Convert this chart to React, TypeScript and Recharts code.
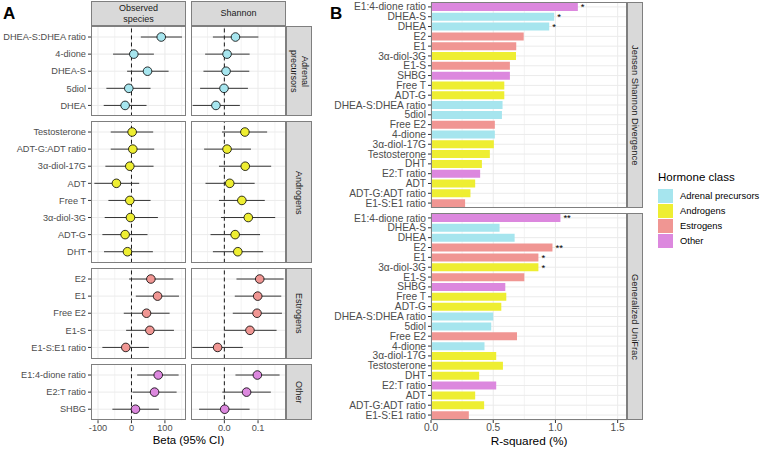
import React from "react";
import {
  Bar,
  BarChart,
  CartesianGrid,
  Cell,
  ErrorBar,
  LabelList,
  ReferenceLine,
  Scatter,
  ScatterChart,
  XAxis,
  YAxis,
} from "recharts";

// ---- data (panel A: estimate, lower CI, upper CI) ----
const adrenalNames = ["DHEA-S:DHEA ratio", "4-dione", "DHEA-S", "5diol", "DHEA"];
const adrenalObs = [[89, 28, 151], [7, -55, 67], [48, -13, 111], [-8, -75, 57], [-19, -83, 45]];
const adrenalSha = [[0.033, -0.034, 0.101], [0.008, -0.057, 0.075], [0.005, -0.062, 0.074], [-0.001, -0.072, 0.07], [-0.025, -0.094, 0.046]];

const androgenNames = ["Testosterone", "ADT-G:ADT ratio", "3α-diol-17G", "ADT", "Free T", "3α-diol-3G", "ADT-G", "DHT"];
const androgenObs = [[2, -62, 65], [4, -62, 68], [-5, -78, 66], [-45, -111, 23], [-5, -69, 57], [-3, -80, 79], [-19, -87, 48], [-12, -82, 64]];
const androgenSha = [[0.061, -0.007, 0.127], [0.008, -0.06, 0.079], [0.062, -0.016, 0.139], [0.016, -0.056, 0.09], [0.052, -0.016, 0.12], [0.071, -0.01, 0.151], [0.032, -0.041, 0.106], [0.04, -0.034, 0.115]];

const estrogenNames = ["E2", "E1", "Free E2", "E1-S", "E1-S:E1 ratio"];
const estrogenObs = [[58, -7, 125], [78, 13, 142], [45, -23, 114], [55, -16, 127], [-17, -87, 52]];
const estrogenSha = [[0.105, 0.036, 0.176], [0.099, 0.031, 0.169], [0.097, 0.025, 0.171], [0.076, 0.0, 0.155], [-0.02, -0.095, 0.055]];

const otherNames = ["E1:4-dione ratio", "E2:T ratio", "SHBG"];
const otherObs = [[80, 17, 141], [69, 3, 135], [12, -57, 82]];
const otherSha = [[0.098, 0.033, 0.164], [0.066, -0.006, 0.138], [0.001, -0.075, 0.075]];

// ---- data (panel B) ----
const bNames = ["E1:4-dione ratio", "DHEA-S", "DHEA", "E2", "E1", "3α-diol-3G", "E1-S", "SHBG", "Free T", "ADT-G", "DHEA-S:DHEA ratio", "5diol", "Free E2", "4-dione", "3α-diol-17G", "Testosterone", "DHT", "E2:T ratio", "ADT", "ADT-G:ADT ratio", "E1-S:E1 ratio"];
const bClass = ["Other", "Adrenal precursors", "Adrenal precursors", "Estrogens", "Estrogens", "Androgens", "Estrogens", "Other", "Androgens", "Androgens", "Adrenal precursors", "Adrenal precursors", "Estrogens", "Adrenal precursors", "Androgens", "Androgens", "Androgens", "Other", "Androgens", "Androgens", "Estrogens"];
const jsdValues = [1.18, 0.99, 0.95, 0.745, 0.685, 0.683, 0.634, 0.634, 0.589, 0.589, 0.575, 0.57, 0.513, 0.513, 0.505, 0.473, 0.409, 0.395, 0.355, 0.317, 0.274];
const jsdStars = ["*", "*", "*", "", "", "", "", "", "", "", "", "", "", "", "", "", "", "", "", "", ""];
const guniValues = [1.04, 0.551, 0.672, 0.976, 0.863, 0.863, 0.75, 0.597, 0.605, 0.565, 0.5, 0.484, 0.691, 0.43, 0.524, 0.578, 0.387, 0.524, 0.355, 0.427, 0.304];
const guniStars = ["**", "", "", "**", "*", "*", "", "", "", "", "", "", "", "", "", "", "", "", "", "", ""];

const classNames = ["Adrenal precursors", "Androgens", "Estrogens", "Other"];
const classColors: Record<string, string> = {
  "Adrenal precursors": "#a6e5ee",
  Androgens: "#eeee32",
  Estrogens: "#f09693",
  Other: "#dc88de",
};

const FONT = '"Liberation Sans", Arial, sans-serif';
const TICK_A = { fontSize: 9.2, fill: "#4d4d4d" };
const TICK_B = { fontSize: 10.2, fill: "#4d4d4d" };
const BORDER = "#7f7f7f";
const STRIP_BG = "#d9d9d9";

const groups = [
  { names: adrenalNames, obs: adrenalObs, sha: adrenalSha, cls: "Adrenal precursors", strip: "Adrenal\nprecursors" },
  { names: androgenNames, obs: androgenObs, sha: androgenSha, cls: "Androgens", strip: "Androgens" },
  { names: estrogenNames, obs: estrogenObs, sha: estrogenSha, cls: "Estrogens", strip: "Estrogens" },
  { names: otherNames, obs: otherObs, sha: otherSha, cls: "Other", strip: "Other" },
];

// row layout for panel A
const STEP = 17.1;
const PAD = 0.645;
const rowsA = (() => {
  let top = 26;
  return groups.map((g) => {
    const h = (g.names.length - 1 + 2 * PAD) * STEP;
    const r = { top, h };
    top += h + 5;
    return r;
  });
})();

const axisCfg = {
  obs: { domain: [-121, 163], major: [-100, 0, 100], minor: [-50, 50, 150], fmt: (v: number) => String(v) },
  sha: { domain: [-0.099, 0.183], major: [0, 0.1], minor: [-0.05, 0.05, 0.15], fmt: (v: number) => v.toFixed(1) },
};

// y tick label without word wrapping
const yTick = (label: (v: any) => string, style: { fontSize: number; fill: string }) => (p: any) => (
  <text x={p.x} y={p.y} dy="0.35em" textAnchor="end" fontSize={style.fontSize} fill={style.fill}>
    {label(p.payload.value)}
  </text>
);

function ForestFacet({ names, rows, color, kind, left, top, height, showY, showX }: any) {
  const cfg = axisCfg[kind as "obs" | "sha"];
  const data = rows.map((r: number[], i: number) => ({ y: i, x: r[0], err: [r[0] - r[1], r[2] - r[0]] }));
  const idx = names.map((_: string, i: number) => i);
  const yw = showY ? 91 : 0;
  const axisH = showX ? 22 : 0;
  return (
    <div style={{ position: "absolute", left, top }}>
      <ScatterChart width={yw + 95} height={height + axisH} margin={{ top: 0, right: 0, bottom: 0, left: 0 }}>
        <CartesianGrid horizontal={false} verticalValues={cfg.minor} stroke="#f3f3f3" />
        <CartesianGrid horizontalValues={idx} verticalValues={cfg.major} stroke="#ebebeb" />
        <XAxis
          type="number"
          dataKey="x"
          domain={cfg.domain}
          ticks={cfg.major}
          allowDataOverflow
          hide={!showX}
          height={axisH}
          tick={TICK_A}
          tickSize={3}
          tickMargin={1}
          axisLine={false}
          tickLine={{ stroke: "#333" }}
          tickFormatter={cfg.fmt}
          interval={0}
        />
        <YAxis
          type="number"
          dataKey="y"
          domain={[-PAD, names.length - 1 + PAD]}
          reversed
          ticks={idx}
          allowDataOverflow
          hide={!showY}
          width={yw}
          tick={yTick((v) => names[Math.round(v)], TICK_A)}
          tickSize={3}
          tickMargin={2}
          axisLine={false}
          tickLine={{ stroke: "#333" }}
          interval={0}
        />
        <ReferenceLine x={0} stroke="#000" strokeDasharray="4 3" strokeWidth={0.9} />
        <Scatter
          data={data}
          isAnimationActive={false}
          shape={(p: any) => <circle cx={p.cx} cy={p.cy} r={4.3} fill={color} stroke="#000" strokeWidth={0.8} />}
        >
          <ErrorBar dataKey="err" direction="x" width={0} stroke="#333" strokeWidth={1} />
        </Scatter>
      </ScatterChart>
      <div
        style={{
          position: "absolute",
          left: yw,
          top: 0,
          width: 95,
          height,
          border: `1px solid ${BORDER}`,
          boxSizing: "border-box",
        }}
      />
    </div>
  );
}

function BarFacet({ values, stars, top, height, showX }: any) {
  const data = bNames.map((name, i) => ({ name, value: values[i], stars: stars[i], cls: bClass[i] }));
  const axisH = showX ? 22 : 0;
  return (
    <div style={{ position: "absolute", left: 320, top }}>
      <BarChart
        layout="vertical"
        width={307}
        height={height + axisH}
        data={data}
        margin={{ top: 0, right: 0, bottom: 0, left: 0 }}
        barCategoryGap="10%"
      >
        <CartesianGrid horizontal={false} verticalValues={[0.25, 0.75, 1.25]} stroke="#f3f3f3" />
        <CartesianGrid verticalValues={[0, 0.5, 1, 1.5]} stroke="#ebebeb" />
        <XAxis
          type="number"
          domain={[0, 1.575]}
          ticks={[0, 0.5, 1, 1.5]}
          allowDataOverflow
          hide={!showX}
          height={axisH}
          tick={TICK_B}
          tickSize={3}
          tickMargin={1}
          axisLine={false}
          tickLine={{ stroke: "#333" }}
          tickFormatter={(v: number) => v.toFixed(1)}
          interval={0}
        />
        <YAxis
          type="category"
          dataKey="name"
          width={111}
          tick={yTick((v) => String(v), TICK_B)}
          tickSize={3}
          tickMargin={2}
          axisLine={false}
          tickLine={{ stroke: "#333" }}
          interval={0}
        />
        <Bar dataKey="value" isAnimationActive={false}>
          {data.map((d) => (
            <Cell key={d.name} fill={classColors[d.cls]} />
          ))}
          <LabelList dataKey="stars" position="right" offset={3} fontSize={9.5} fill="#000" />
        </Bar>
      </BarChart>
      <div
        style={{
          position: "absolute",
          left: 111,
          top: 0,
          width: 196,
          height,
          border: `1px solid ${BORDER}`,
          boxSizing: "border-box",
        }}
      />
    </div>
  );
}

const stripBox = (left: number, top: number, width: number, height: number, fontSize = 9): React.CSSProperties => ({
  position: "absolute",
  left,
  top,
  width,
  height,
  background: STRIP_BG,
  border: `1px solid ${BORDER}`,
  boxSizing: "border-box",
  display: "flex",
  alignItems: "center",
  justifyContent: "center",
  textAlign: "center",
  fontSize,
  lineHeight: "10.5px",
  color: "#1a1a1a",
  whiteSpace: "pre",
});

const vText: React.CSSProperties = { writingMode: "vertical-rl", textAlign: "center" };

export default function App() {
  const bTop = { top: 2, h: 206 };
  const bBot = { top: 213, h: 207 };
  return (
    <div
      style={{
        position: "absolute",
        left: 0,
        top: 0,
        width: 760,
        height: 449,
        background: "#fff",
        fontFamily: FONT,
        overflow: "hidden",
      }}
    >
      {/* panel labels */}
      <div style={{ position: "absolute", left: 3, top: 5, fontSize: 17, lineHeight: "17px", fontWeight: 700 }}>A</div>
      <div style={{ position: "absolute", left: 330, top: 5, fontSize: 17, lineHeight: "17px", fontWeight: 700 }}>B</div>

      {/* panel A */}
      <div style={stripBox(91, 1, 95, 25)}>{"Observed\nspecies"}</div>
      <div style={stripBox(191, 1, 95, 25)}>Shannon</div>
      {groups.map((g, gi) => {
        const r = rowsA[gi];
        const last = gi === groups.length - 1;
        return (
          <React.Fragment key={g.cls}>
            <ForestFacet
              names={g.names}
              rows={g.obs}
              color={classColors[g.cls]}
              kind="obs"
              left={0}
              top={r.top}
              height={r.h}
              showY
              showX={last}
            />
            <ForestFacet
              names={g.names}
              rows={g.sha}
              color={classColors[g.cls]}
              kind="sha"
              left={191}
              top={r.top}
              height={r.h}
              showY={false}
              showX={last}
            />
            <div style={stripBox(286, r.top, 26, r.h)}>
              <div style={vText}>{g.strip}</div>
            </div>
          </React.Fragment>
        );
      })}
      <div style={{ position: "absolute", left: 91, width: 195, top: 433, textAlign: "center", fontSize: 11.4, lineHeight: "14px", color: "#000" }}>
        Beta (95% CI)
      </div>

      {/* panel B */}
      <BarFacet values={jsdValues} stars={jsdStars} top={bTop.top} height={bTop.h} showX={false} />
      <BarFacet values={guniValues} stars={guniStars} top={bBot.top} height={bBot.h} showX />
      <div style={stripBox(627, bTop.top, 16, bTop.h, 9.4)}>
        <div style={vText}>Jensen Shannon Divergence</div>
      </div>
      <div style={stripBox(627, bBot.top, 16, bBot.h, 9.4)}>
        <div style={vText}>Generalized UniFrac</div>
      </div>
      <div style={{ position: "absolute", left: 431, width: 196, top: 434, textAlign: "center", fontSize: 11.8, lineHeight: "14px", color: "#000" }}>
        R-squared (%)
      </div>

      {/* legend */}
      <div style={{ position: "absolute", left: 658, top: 170, fontSize: 11.5, lineHeight: "14px", color: "#000" }}>Hormone class</div>
      {classNames.map((c, i) => (
        <React.Fragment key={c}>
          <div style={{ position: "absolute", left: 658, top: 189 + i * 15, width: 15, height: 14, background: classColors[c] }} />
          <div style={{ position: "absolute", left: 680, top: 189 + i * 15, height: 14, lineHeight: "14px", fontSize: 9.4, color: "#000" }}>{c}</div>
        </React.Fragment>
      ))}
    </div>
  );
}
